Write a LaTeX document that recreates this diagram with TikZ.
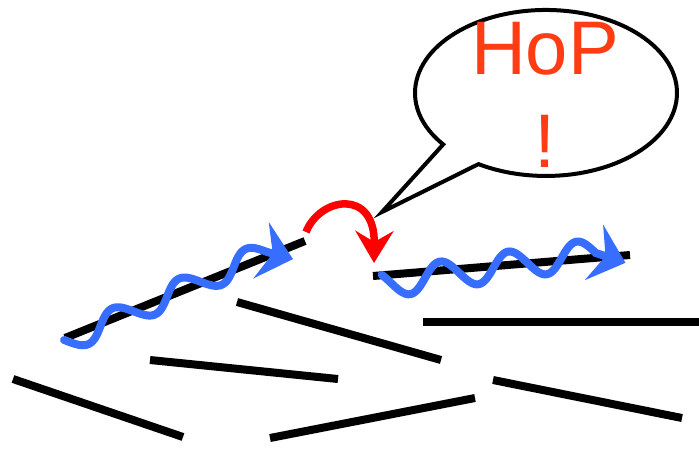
\documentclass[tikz,border=0pt]{standalone}
\usepackage{fontspec}
\setmainfont{Liberation Sans}
\usetikzlibrary{arrows.meta, positioning}

\definecolor{photonblue}{RGB}{55,110,255}
\definecolor{hopred}{RGB}{255,60,20}

\begin{document}
\begin{tikzpicture}[x=1pt, y=-1pt, >=Stealth,
    stick/.style={line width=8pt},
    photon/.style={photonblue, line width=8pt, line cap=round,
        -{Stealth[length=33pt, width=58pt, inset=12pt]}},
    jump/.style={red, line width=7.5pt, -{Stealth[length=32pt, width=38pt, inset=11pt]}}]
    \useasboundingbox (0,0) rectangle (699,448);

    % Sticks
    \draw[stick] (65,338) -- (305,241);
    \draw[stick] (373,276) -- (630,255);
    \draw[stick] (237,302) -- (441,360);
    \draw[stick] (423,322) -- (699,322);
    \draw[stick] (150,360) -- (338,379);
    \draw[stick] (13,379) -- (183,437);
    \draw[stick] (270,438) -- (475,398);
    \draw[stick] (493,380) -- (682,418);

    % Excitation travelling along the sticks
    \begin{scope}[shift={(65,342)}, rotate=24]
        \coordinate (tipA) at (242,17);
        \draw[photon] plot[domain=0:221, samples=120] (\x, {11.5*sin((\x-2.25)/73*360)}) -- (tipA);
    \end{scope}
    \begin{scope}[shift={(383,284)}, rotate=8.3]
        \coordinate (tipB) at (243,14);
        \draw[photon] plot[domain=0:215, samples=120] (\x, {14*sin((\x-8)/69*360)}) -- (tipB);
    \end{scope}

    % Hop between sticks
    \coordinate (hopfrom) at (306,232);
    \coordinate (hopto) at (374,263);
    \draw[jump] (hopfrom) .. controls (320,197) and (375,188) .. (hopto);

    % Speech bubble
    \coordinate (tip) at (382,212);
    \draw[line width=4pt, line join=miter] (tip) -- (443.2,144.4)
        arc[start angle=141.7, end angle=481, x radius=131, y radius=83] -- cycle;
    \node[hopred, font=\fontsize{76}{93}\selectfont, align=center, inner sep=0pt, anchor=north] (hop) at (545,22) {HoP\\!};
\end{tikzpicture}
\end{document}
